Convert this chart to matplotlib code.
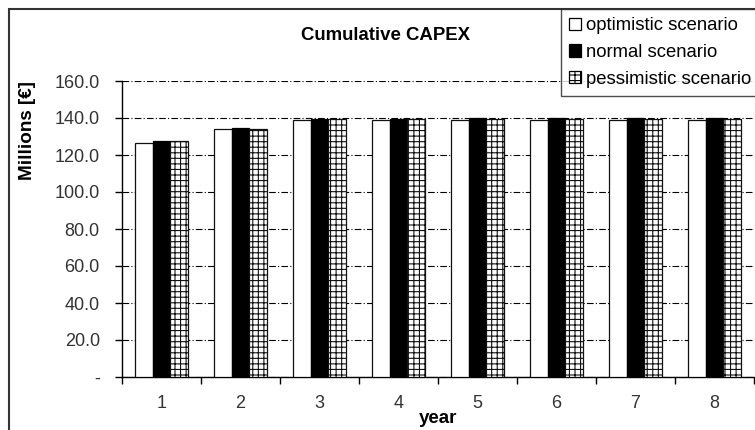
import numpy as np
import matplotlib
matplotlib.use('Agg')
import matplotlib.pyplot as plt
from matplotlib.patches import Rectangle, Patch
from matplotlib.ticker import FuncFormatter, FixedLocator

plt.rcParams['font.family'] = ['Liberation Sans', 'DejaVu Sans']
plt.rcParams['hatch.linewidth'] = 0.8

# cumulative capex per year, millions of euro
years = [1, 2, 3, 4, 5, 6, 7, 8]
optimistic = [126.7, 133.9, 138.7, 139.0, 139.0, 139.0, 139.1, 139.1]
normal = [127.4, 134.6, 139.6, 139.7, 139.8, 139.8, 139.9, 139.9]
pessimistic = [127.4, 134.1, 139.7, 139.7, 139.7, 139.7, 139.7, 139.7]
labels = ['optimistic scenario', 'normal scenario', 'pessimistic scenario']

W, H = 755, 430
fig = plt.figure(figsize=(W / 100, H / 100), dpi=100)
ax = fig.add_axes([122 / W, 1 - 377 / H, 632 / W, 296 / H])

x = np.array(years)
bw = 0.225
ax.bar(x - bw, optimistic, bw, facecolor='white', edgecolor='#111', lw=0.9, zorder=3)
ax.bar(x, normal, bw, facecolor='black', edgecolor='black', lw=0.9, zorder=3)
ax.bar(x + bw, pessimistic, bw, facecolor='white', edgecolor='#111', lw=0.9,
       hatch='+++', zorder=3)

ax.set_xlim(0.5, 8.5)
ax.set_ylim(0, 160)
ax.set_yticks(np.arange(0, 161, 20))
ax.yaxis.set_major_formatter(FuncFormatter(lambda v, p: '-' if v == 0 else '%.1f' % v))
ax.yaxis.grid(True, color='black', lw=0.8, linestyle=(0, (6, 2, 1, 2)), zorder=0)

# category boundaries carry the tick marks, centres carry the labels
ax.xaxis.set_major_locator(FixedLocator(np.arange(0.5, 8.6, 1)))
ax.xaxis.set_minor_locator(FixedLocator(x))
ax.set_xticklabels([])
ax.set_xticklabels([str(y) for y in years], minor=True)
ax.tick_params(axis='x', which='major', direction='out', length=5, width=1)
ax.tick_params(axis='x', which='minor', length=0, pad=13, labelsize=13, labelcolor='#333')
ax.tick_params(axis='y', direction='out', length=5, width=1, pad=11,
               labelsize=13, labelcolor='#333')

for s in ['top', 'right']:
    ax.spines[s].set_visible(False)
for s in ['left', 'bottom']:
    ax.spines[s].set_linewidth(1.0)

ax.set_xlabel('year', fontsize=13.5, fontweight='bold')
ax.xaxis.set_label_coords(0.5, -0.11)

fig.text(385 / W, 1 - 35 / H, 'Cumulative CAPEX', ha='center', va='center',
         fontsize=13.4, fontweight='bold')
fig.text(27 / W, 1 - 131 / H, 'Millions [€]', ha='center', va='center',
         rotation=90, fontsize=13.6, fontweight='bold')

handles = [Patch(facecolor='white', edgecolor='black', lw=0.9),
           Patch(facecolor='black', edgecolor='black', lw=0.9),
           Patch(facecolor='white', edgecolor='black', lw=0.9, hatch='+++')]
leg = fig.legend(handles, labels, loc='upper left',
                 bbox_to_anchor=(561 / W, 1 - 9 / H), fontsize=13.3,
                 frameon=True, fancybox=False, edgecolor='#222',
                 handlelength=0.65, handleheight=0.65, handletextpad=0.25,
                 borderpad=0.45, labelspacing=0.52, borderaxespad=0)
leg.get_frame().set_linewidth(1.0)

# outer chart border
fig.patches.append(Rectangle((9 / W, -0.5), 2, 1 - 9 / H + 0.5, fill=False,
                             ec='#333', lw=1.5, transform=fig.transFigure))

fig.savefig('out.png', dpi=100)
